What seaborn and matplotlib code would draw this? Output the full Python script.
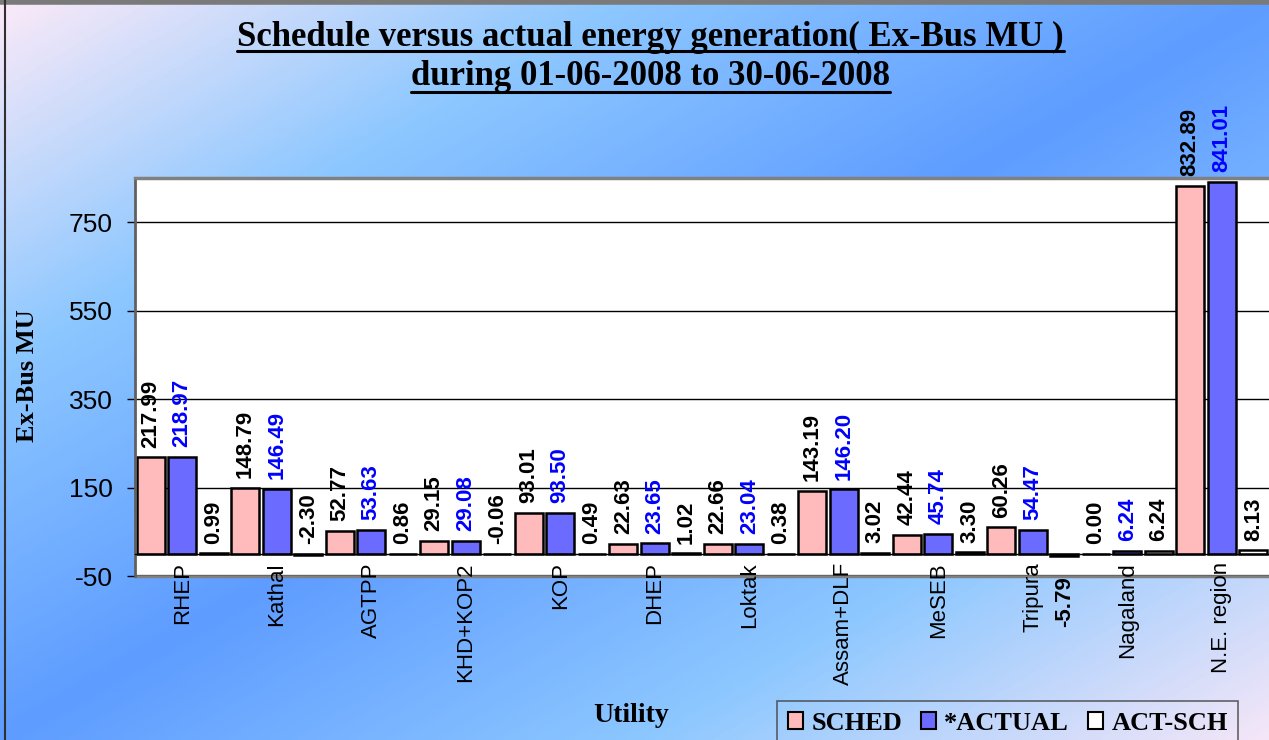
import numpy as np
import pandas as pd
import matplotlib
matplotlib.use('Agg')
import matplotlib.pyplot as plt
import seaborn as sns
from matplotlib.colors import LinearSegmentedColormap
from matplotlib.lines import Line2D
from matplotlib.patches import Patch

# ---------------------------------- DATA ----------------------------------
utilities = ['RHEP', 'Kathal', 'AGTPP', 'KHD+KOP2', 'KOP', 'DHEP', 'Loktak',
             'Assam+DLF', 'MeSEB', 'Tripura', 'Nagaland', 'N.E. region']
sched = [217.99, 148.79, 52.77, 29.15, 93.01, 22.63, 22.66, 143.19, 42.44, 60.26, 0.00, 832.89]
actual = [218.97, 146.49, 53.63, 29.08, 93.50, 23.65, 23.04, 146.20, 45.74, 54.47, 6.24, 841.01]
act_sch = [0.99, -2.30, 0.86, -0.06, 0.49, 1.02, 0.38, 3.02, 3.30, -5.79, 6.24, 8.13]
series = ['SCHED', '*ACTUAL', 'ACT-SCH']
y_ticks = [-50, 150, 350, 550, 750]

bar_colors = ['#FFBBBB', '#6B6BFF', '#FFFFFF']
label_colors = ['black', '#0000FF', 'black']

df = pd.DataFrame({
    'Utility': utilities * 3,
    'series': np.repeat(series, len(utilities)),
    'value': sched + actual + act_sch,
})

sns.set_style('white')
plt.rcParams['font.family'] = ['Liberation Sans', 'DejaVu Sans']
plt.rcParams['axes.unicode_minus'] = False
for k in ['text.color', 'axes.labelcolor', 'xtick.color', 'ytick.color']:
    plt.rcParams[k] = 'black'
SERIF = ['Liberation Serif', 'DejaVu Serif']

W, H, DPI = 1269, 740, 100
fig = plt.figure(figsize=(W / DPI, H / DPI), dpi=DPI)

# gradient background of the chart area
bg = fig.add_axes([0, 0, 1, 1])
bg.set_zorder(-1)
cmap = LinearSegmentedColormap.from_list(
    'bg', [(0, '#FBEAF8'), (0.24, '#8EC8FF'), (0.5, '#5E9CFF'),
           (0.76, '#8EC8FF'), (1, '#F4E6F8')])
gx, gy = np.meshgrid(np.linspace(0, 1, 400), np.linspace(0, 1, 240))
bg.imshow((gx + gy) / 2, cmap=cmap, aspect='auto', extent=[0, 1, 1, 0],
          vmin=0, vmax=1)
bg.set_axis_off()

# plot area
ax = fig.add_axes([135 / W, 1 - 576 / H, 1 - 135 / W, (576 - 178) / H])
ax.set_facecolor('white')

sns.barplot(data=df, x='Utility', y='value', hue='series', order=utilities,
            hue_order=series, palette=bar_colors, saturation=1, width=1.0,
            gap=0.11, edgecolor='black', linewidth=1.8, errorbar=None,
            legend=False, ax=ax)

# value labels, rotated like the original
values = [sched, actual, act_sch]
for cont, vals, col in zip(ax.containers, values, label_colors):
    for rect, v in zip(cont, vals):
        xc = rect.get_x() + rect.get_width() / 2
        if v < -5:
            # the big negative one sits under the bar
            ax.annotate(f'{v:.2f}', (xc, v), xytext=(0, -14), textcoords='offset points',
                        rotation=90, ha='center', va='top', fontsize=16,
                        fontweight='bold', color=col, annotation_clip=False)
        else:
            ax.annotate(f'{v:.2f}', (xc, max(v, 0)), xytext=(0, 7), textcoords='offset points',
                        rotation=90, ha='center', va='bottom', fontsize=16,
                        fontweight='bold', color=col, annotation_clip=False)

ax.set_xlim(-0.5, len(utilities) - 0.5)
ax.set_ylim(-50, 850)
ax.set_yticks(y_ticks)
ax.yaxis.grid(True, color='black', linewidth=1)
ax.set_axisbelow(True)
ax.set_xlabel('')
ax.set_ylabel('')

# category axis crosses at zero
ax.spines['bottom'].set_position(('data', 0))
ax.spines['bottom'].set_color('black')
ax.spines['bottom'].set_linewidth(1)
ax.spines['left'].set_color('#606060')
ax.spines['left'].set_linewidth(2)
ax.spines['top'].set_color('#808080')
ax.spines['top'].set_linewidth(2.5)
ax.spines['right'].set_visible(False)
# bottom edge of the plot area, kept under the category labels
ax.axhline(-50, color='#808080', linewidth=2.5, clip_on=False, zorder=0.3)

ax.set_xticks(np.arange(-0.5, len(utilities), 1), minor=True)
ax.tick_params(axis='x', which='major', length=0, pad=6, labelsize=16,
               labelrotation=90)
ax.tick_params(axis='x', which='minor', length=5, width=1, color='black',
               direction='out')
ax.tick_params(axis='y', length=6, width=1, color='black', direction='out',
               pad=10, labelsize=19, left=True)

# titles with underline
t1 = fig.text(650.5 / W, 1 - 46 / H, 'Schedule versus actual energy generation( Ex-Bus MU )',
              ha='center', va='baseline', family=SERIF, fontweight='bold', fontsize=25)
t2 = fig.text(650.5 / W, 1 - 85 / H, 'during 01-06-2008 to 30-06-2008',
              ha='center', va='baseline', family=SERIF, fontweight='bold', fontsize=25)
fig.canvas.draw()
for t, yu in [(t1, 51), (t2, 92)]:
    bb = t.get_window_extent()
    fig.add_artist(Line2D([bb.x0 / W, bb.x1 / W], [1 - yu / H, 1 - yu / H],
                          transform=fig.transFigure, color='black', linewidth=2.2))

fig.text(28 / W, 1 - 376 / H, 'Ex-Bus MU', rotation=90, ha='center', va='center',
         family=SERIF, fontweight='bold', fontsize=19)
fig.text(631.5 / W, 1 - 722 / H, 'Utility', ha='center', va='baseline',
         family=SERIF, fontweight='bold', fontsize=20)

handles = [Patch(facecolor=c, edgecolor='black', linewidth=1.5) for c in bar_colors]
leg = fig.legend(handles, series, loc='upper left', bbox_to_anchor=(777 / W, 1 - 701 / H),
                 ncol=3, frameon=True, fancybox=False, edgecolor='#404040',
                 facecolor='none', prop={'family': SERIF, 'weight': 'bold', 'size': 19},
                 handlelength=0.6, handleheight=0.6, handletextpad=0.3,
                 columnspacing=0.7, borderpad=0.4, borderaxespad=0)
leg.get_frame().set_linewidth(1.2)

# chart area border (top and left edges)
fig.add_artist(Line2D([0, 1], [1 - 2 / H, 1 - 2 / H], transform=fig.transFigure,
                      color='#7A7A7A', linewidth=4))
fig.add_artist(Line2D([5 / W, 5 / W], [0, 1], transform=fig.transFigure,
                      color='#303030', linewidth=1.5))

fig.savefig('out.png', dpi=DPI)
